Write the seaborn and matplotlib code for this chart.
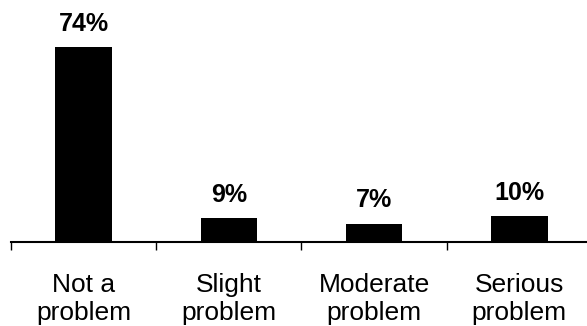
import matplotlib
matplotlib.use("Agg")
import matplotlib.pyplot as plt
import seaborn as sns
import pandas as pd

categories = ["Not a\nproblem", "Slight\nproblem", "Moderate\nproblem", "Serious\nproblem"]
values = [74, 9, 7, 10]

sns.set_theme(style="white")
plt.rcParams["font.family"] = ["Liberation Sans", "DejaVu Sans"]

df = pd.DataFrame({"category": categories, "value": values})

fig = plt.figure(figsize=(5.87, 3.26), dpi=100)
ax = fig.add_axes([11 / 587, 84 / 326, 581 / 587, 242 / 326])

sns.barplot(data=df, x="category", y="value", color="black", width=0.39,
            saturation=1, ax=ax, edgecolor="black", linewidth=0)

ax.set_xlim(-0.5, 3.5)
ax.set_ylim(0, 91.8)

for i, v in enumerate(values):
    ax.annotate(f"{v}%", xy=(i, v), xytext=(0, 8), textcoords="offset points",
                ha="center", va="bottom", fontsize=18, fontweight="bold", color="black")

for s in ["top", "right", "left"]:
    ax.spines[s].set_visible(False)
ax.spines["bottom"].set_color("black")
ax.spines["bottom"].set_linewidth(1.5)

ax.set_yticks([])
ax.set_xlabel("")
ax.set_ylabel("")
ax.set_xticks(range(len(categories)))
ax.set_xticklabels(categories, fontsize=19, linespacing=1.25)
ax.tick_params(axis="x", which="major", length=0, pad=22, colors="black")
ax.set_xticks([-0.5, 0.5, 1.5, 2.5, 3.5], minor=True)
ax.tick_params(axis="x", which="minor", length=6, width=1, color="black", direction="out", bottom=True)

fig.savefig("out.png", dpi=100)
